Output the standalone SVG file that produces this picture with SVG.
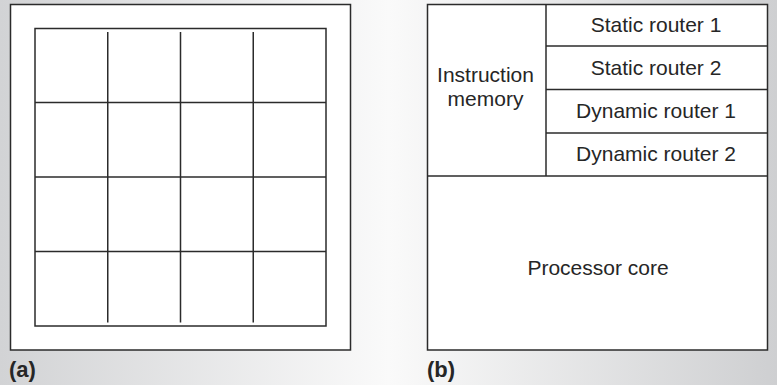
<svg xmlns="http://www.w3.org/2000/svg" width="777" height="385" viewBox="0 0 777 385">
  <defs>
    <linearGradient id="bg" x1="0" y1="0" x2="1" y2="0">
      <stop offset="0" stop-color="#d2d3d5"/>
      <stop offset="0.5" stop-color="#fafafa"/>
      <stop offset="1" stop-color="#cecfd1"/>
    </linearGradient>
  </defs>
  <style>
    .box { fill: #ffffff; stroke: #2b2b2b; stroke-width: 1.5; }
    .ln { stroke: #2b2b2b; stroke-width: 1.5; fill: none; }
    .lbl { font-family: "Liberation Sans", Arial, sans-serif; font-size: 21px; fill: #262626; text-anchor: middle; }
    .cap { font-family: "Liberation Sans", Arial, sans-serif; font-size: 22px; font-weight: bold; fill: #262626; }
  </style>

  <rect x="0" y="0" width="777" height="385" fill="url(#bg)"/>

  <!-- (a) tiled array: 4 x 4 grid inside a chip outline -->
  <g id="chip-a">
    <rect class="box" x="10.5" y="4.5" width="340" height="345.5"/>
    <g id="tile-grid">
      <rect class="box" x="35" y="28.5" width="291" height="297.5"/>
      <line class="ln" x1="107.75" y1="32" x2="107.75" y2="322.5"/>
      <line class="ln" x1="180.5" y1="32" x2="180.5" y2="322.5"/>
      <line class="ln" x1="253.25" y1="32" x2="253.25" y2="322.5"/>
      <line class="ln" x1="35" y1="102.5" x2="326" y2="102.5"/>
      <line class="ln" x1="35" y1="177" x2="326" y2="177"/>
      <line class="ln" x1="35" y1="251.5" x2="326" y2="251.5"/>
    </g>
    <text class="cap" x="9" y="377">(a)</text>
  </g>

  <!-- (b) single tile -->
  <g id="tile-b">
    <rect class="box" x="427.5" y="4.5" width="340" height="345.5"/>
    <g id="instruction-memory">
      <line class="ln" x1="546" y1="4.5" x2="546" y2="176"/>
      <text class="lbl" x="485.5" y="82">Instruction</text>
      <text class="lbl" x="485.5" y="106">memory</text>
    </g>
    <g id="static-router-1">
      <text class="lbl" x="656" y="32">Static router 1</text>
    </g>
    <g id="static-router-2">
      <line class="ln" x1="546" y1="46" x2="767.5" y2="46"/>
      <text class="lbl" x="656" y="75">Static router 2</text>
    </g>
    <g id="dynamic-router-1">
      <line class="ln" x1="546" y1="89.5" x2="767.5" y2="89.5"/>
      <text class="lbl" x="656" y="118">Dynamic router 1</text>
    </g>
    <g id="dynamic-router-2">
      <line class="ln" x1="546" y1="133" x2="767.5" y2="133"/>
      <text class="lbl" x="656" y="161">Dynamic router 2</text>
    </g>
    <g id="processor-core">
      <line class="ln" x1="427.5" y1="176" x2="767.5" y2="176"/>
      <text class="lbl" x="598" y="275">Processor core</text>
    </g>
    <text class="cap" x="427" y="377">(b)</text>
  </g>

  <g id="connectors"/>
</svg>
